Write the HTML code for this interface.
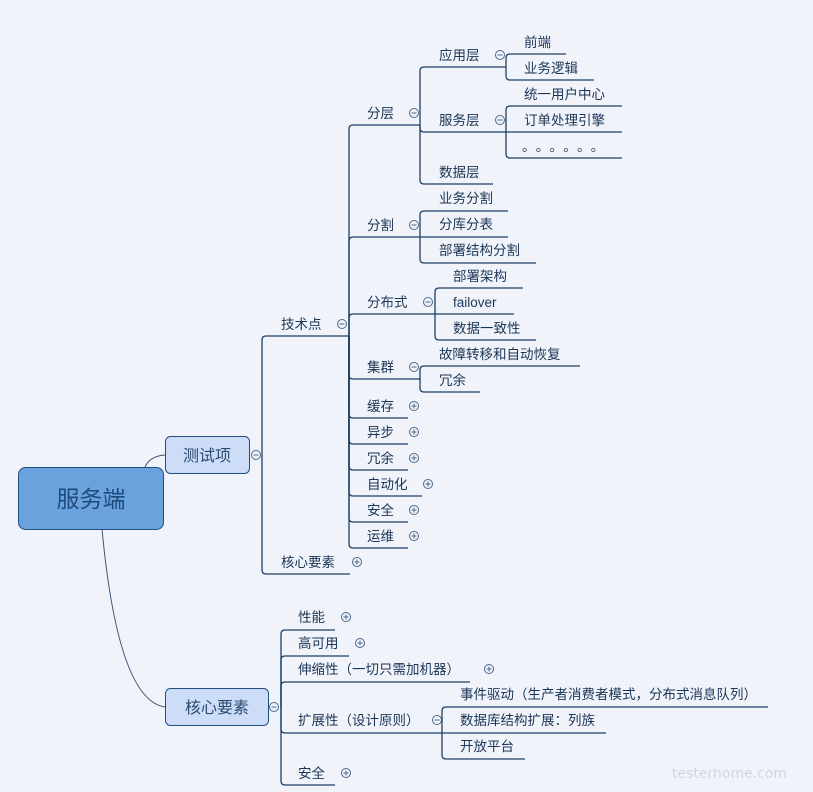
<!DOCTYPE html>
<html><head><meta charset="utf-8"><style>
html,body{margin:0;padding:0;background:#f1f3fa;}
svg{display:block;}
text{font-family:"Liberation Sans","Noto Sans CJK SC",sans-serif;font-size:13.5px;fill:#1b3556;}
</style></head><body>
<svg id="s" width="813" height="792" viewBox="0 0 813 792" xmlns="http://www.w3.org/2000/svg">
<rect width="813" height="792" fill="#f1f3fa"/>
<path d="M145 467 Q150 456 165 455" fill="none" stroke="#3b5575" stroke-width="1"/>
<path d="M102 529 Q118 700 165 707" fill="none" stroke="#3b5575" stroke-width="1"/>
<rect x="18.5" y="467.5" width="145" height="62" rx="7" fill="#6aa2de" stroke="#1f4f82"/>
<text x="91" y="507" text-anchor="middle" style="font-size:23px;fill:#1d4a7a">服务端</text>
<rect x="165.5" y="436.5" width="84" height="37" rx="5" fill="#cddcf7" stroke="#1f4f82"/>
<text x="207" y="461" text-anchor="middle" style="font-size:16px;fill:#2a4a70">测试项</text>
<rect x="165.5" y="688.5" width="103" height="37" rx="5" fill="#cddcf7" stroke="#1f4f82"/>
<text x="217" y="713" text-anchor="middle" style="font-size:16px;fill:#2a4a70">核心要素</text>
<g id="g"></g>
<text x="672" y="778" style="font-size:14px;fill:#d3d6dc;font-family:'DejaVu Sans',sans-serif">testerhome.com</text>
</svg>
<script>
var g=document.getElementById('g'),h='';
function L(bx,py,cy,end){var r=4,d;
 if(Math.abs(cy-py)<1)d='M'+bx+' '+cy+' H'+end;
 else{var s=cy>py?1:-1;d='M'+bx+' '+py+' V'+(cy-s*r)+' Q'+bx+' '+cy+' '+(bx+r)+' '+cy+' H'+end;}
 h+='<path d="'+d+'" fill="none" stroke="#1d3f66" stroke-width="1.3"/>';}
function T(x,y,t,st){h+='<text x="'+x+'" y="'+(y+5)+'"'+(st?' style="'+st+'"':'')+'>'+t+'</text>';}
function C(x,y,p){h+='<circle cx="'+x+'" cy="'+y+'" r="4.5" fill="#f1f3fa" stroke="#4a6a90" stroke-width="1"/><path d="M'+(x-2.5)+' '+y+'H'+(x+2.5)+(p?'M'+x+' '+(y-2.5)+'V'+(y+2.5):'')+'" stroke="#4a6a90" stroke-width="1"/>';}
C(256,455,0);
L(262,455,336,349);T(281,324,'技术点');C(342,324,0);
L(262,455,574,350);T(281,562,'核心要素');C(357,562,1);
var tp=[[125,'分层',420,414,0],[237,'分割',420,414,0],[314,'分布式',435,428,0],[379,'集群',420,414,0],[418,'缓存',408,414,1],[444,'异步',408,414,1],[470,'冗余',408,414,1],[496,'自动化',422,428,1],[522,'安全',408,414,1],[548,'运维',408,414,1]];
tp.forEach(function(a){L(349,336,a[0],a[2]);T(367,a[0]-12,a[1]);C(a[3],a[0]-12,a[4]);});
L(420,125,67,506);T(439,55,'应用层');C(500,55,0);
L(420,125,132,506);T(439,120,'服务层');C(500,120,0);
L(420,125,184,493);T(439,172,'数据层');
L(506,67,54,566);T(524,42,'前端');
L(506,67,80,594);T(524,68,'业务逻辑');
L(506,132,106,622);T(524,94,'统一用户中心');
L(506,132,132,622);T(524,120,'订单处理引擎');
L(506,132,158,622);T(522,146,'。。。。。。','letter-spacing:7px');
L(420,237,211,508);T(439,198,'业务分割');
L(420,237,237,508);T(439,224,'分库分表');
L(420,237,263,536);T(439,250,'部署结构分割');
L(435,314,288,523);T(453,276,'部署架构');
L(435,314,314,514);T(453,302,'failover');
L(435,314,340,536);T(453,328,'数据一致性');
L(420,379,366,580);T(439,354,'故障转移和自动恢复');
L(420,379,392,480);T(439,380,'冗余');
C(274,707,0);
L(281,707,630,335);T(298,617,'性能');C(346,617,1);
L(281,707,656,349);T(298,643,'高可用');C(360,643,1);
L(281,707,682,470);T(298,669,'伸缩性（一切只需加机器）');C(489,669,1);
L(281,707,733,442);T(298,720,'扩展性（设计原则）');C(437,720,0);
L(281,707,785,335);T(298,773,'安全');C(346,773,1);
L(442,733,707,768);T(460,694,'事件驱动（生产者消费者模式，分布式消息队列）');
L(442,733,733,606);T(460,720,'数据库结构扩展：列族');
L(442,733,759,525);T(460,746,'开放平台');
g.innerHTML=h;
</script>
</body></html>
